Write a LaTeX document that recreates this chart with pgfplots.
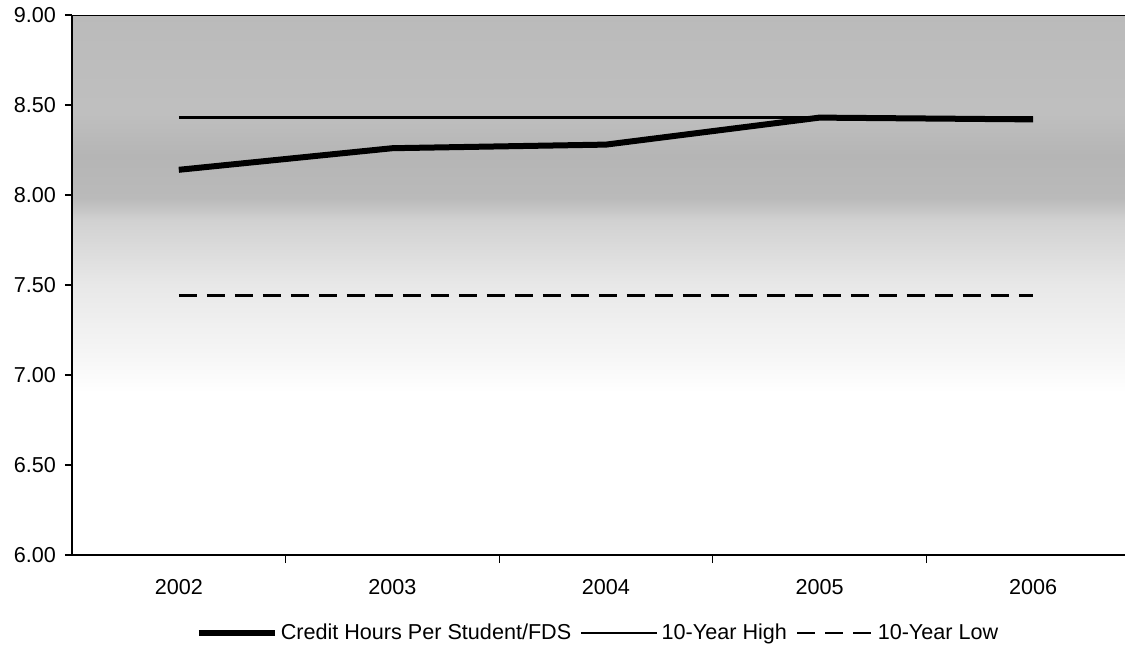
\documentclass[border=0pt]{standalone}
\usepackage{fontspec}
\setmainfont{Liberation Sans}
\usepackage{pgfplots}
\pgfplotsset{compat=1.18}

% background: grey at the top, fading to white near 7.00
% (25bp = 6.00, 75bp = 9.00)
\pgfdeclareverticalshading{chartbg}{100bp}{%
  color(0bp)=(white); color(40bp)=(white);
  color(44bp)=(black!4); color(50bp)=(black!9);
  color(56bp)=(black!18); color(58bp)=(black!27);
  color(62bp)=(black!29); color(66bp)=(black!25);
  color(75bp)=(black!27); color(100bp)=(black!27)}

\begin{document}
\begin{tikzpicture}
\useasboundingbox (0,0) rectangle (562.5pt,322.5pt);
\begin{axis}[
    at={(36pt,45pt)}, anchor=south west,
    scale only axis,
    width=526.5pt, height=270pt,
    xmin=-0.5, xmax=4.43,
    ymin=6, ymax=9,
    axis x line*=bottom, axis y line*=left,
    axis line style={line width=0.6pt},
    axis background/.style={shade, shading=chartbg},
    xtick={0,1,2,3,4},
    xticklabels={2002,2003,2004,2005,2006},
    major x tick style={draw=none},
    minor xtick={0.5,1.5,2.5,3.5},
    minor tick length=4pt,
    ytick={6,6.5,...,9},
    major tick length=3.5pt,
    tick align=outside,
    tick style={black, line width=0.6pt},
    y tick label style={/pgf/number format/fixed, /pgf/number format/fixed zerofill,
      /pgf/number format/precision=2, /tikz/xshift=-1pt},
    /pgf/number format/assume math mode=true,
    ticklabel style={font=\fontsize{10.8}{12}\selectfont},
    x tick label style={/tikz/yshift=-5pt},
    legend style={at={(0.5,-0.1444)}, anchor=center, draw=none, fill=none,
      legend columns=3, font=\fontsize{10.8}{12}\selectfont,
      nodes={inner xsep=1.5pt},
      /tikz/every even column/.append style={column sep=3pt}},
    legend cell align=left,
    legend image code/.code={\draw[#1] (0pt,0pt) -- (38pt,0pt);},
]
\addplot[black, line width=3pt, line join=round] coordinates {
  (0,8.14) (1,8.26) (2,8.28) (3,8.43) (4,8.42)};
\addlegendentry{Credit Hours Per Student/FDS}
\addplot[black, line width=1.2pt] coordinates {(0,8.43) (4,8.43)};
\addlegendentry{10-Year High}
\addplot[black, line width=1.4pt, dash pattern=on 9pt off 5pt] coordinates {(0,7.44) (4,7.44)};
\addlegendentry{10-Year Low}
\draw[black, line width=0.6pt] (rel axis cs:0,1) -- (rel axis cs:1,1);
\end{axis}
\end{tikzpicture}
\end{document}
